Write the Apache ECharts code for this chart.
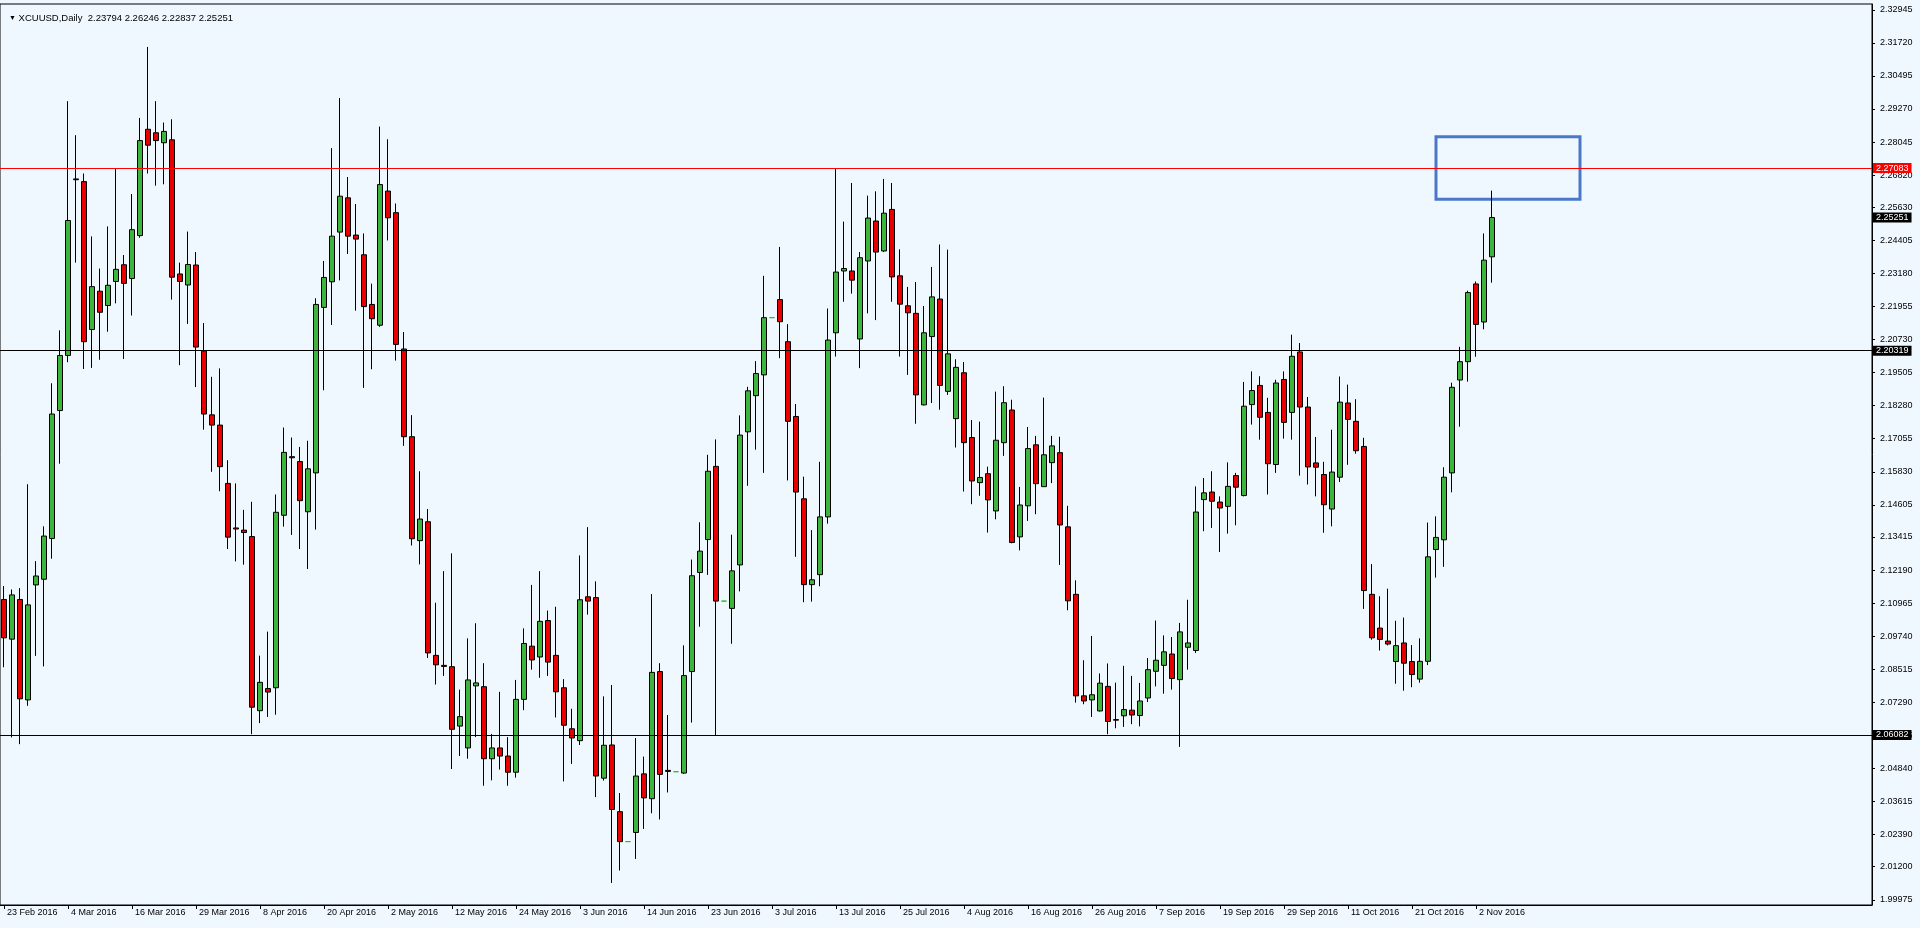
<!DOCTYPE html>
<html><head><meta charset="utf-8">
<script src="https://cdn.jsdelivr.net/npm/echarts/dist/echarts.min.js"></script>
<style>html,body{margin:0;padding:0;background:#F0F8FF;} #c{width:1920px;height:928px;}</style>
</head><body><div id="c"></div>
<script>
const symbolName = 'XCUUSD,Daily';
const headerValues = ['2.23794', '2.26246', '2.22837', '2.25251'];
const dateLabels = ['23 Feb 2016','4 Mar 2016','16 Mar 2016','29 Mar 2016','8 Apr 2016','20 Apr 2016','2 May 2016','12 May 2016','24 May 2016','3 Jun 2016','14 Jun 2016','23 Jun 2016','3 Jul 2016','13 Jul 2016','25 Jul 2016','4 Aug 2016','16 Aug 2016','26 Aug 2016','7 Sep 2016','19 Sep 2016','29 Sep 2016','11 Oct 2016','21 Oct 2016','2 Nov 2016'];
const barsPerLabel = 8;
const totalSlots = 234;
const priceTickLabels = ['2.32945','2.31720','2.30495','2.29270','2.28045','2.26820','2.25630','2.24405','2.23180','2.21955','2.20730','2.19505','2.18280','2.17055','2.15830','2.14605','2.13415','2.12190','2.10965','2.09740','2.08515','2.07290','2.06065','2.04840','2.03615','2.02390','2.01200','1.99975'];
const opens = [2.1110,2.0963,2.1110,2.0738,2.1164,2.1185,2.1336,2.1810,2.2014,2.2668,
2.2658,2.2110,2.2252,2.2199,2.2288,2.2350,2.2299,2.2458,2.2852,2.2839,
2.2802,2.2813,2.2316,2.2275,2.2349,2.2030,2.1794,2.1756,2.1540,2.1375,
2.1367,2.1343,2.0698,2.0780,2.0783,2.1422,2.1639,2.1621,2.1435,2.1579,
2.2192,2.2287,2.2471,2.2598,2.2460,2.2387,2.2203,2.2126,2.2623,2.2543,
2.2038,2.1713,2.1328,2.1398,2.0903,2.0866,2.0861,2.0641,2.0560,2.0790,
2.0787,2.0520,2.0560,2.0530,2.0470,2.0740,2.0937,2.0897,2.1032,2.0903,
2.0783,2.0631,2.0587,2.1120,2.1117,2.0448,2.0571,2.0324,2.0213,2.0247,
2.0464,2.0372,2.0843,2.0477,2.0472,2.0467,2.0843,2.1210,2.1332,2.1603,
2.1104,2.1077,2.1238,2.1731,2.1865,2.1942,2.2154,2.2221,2.2065,2.1788,
2.1483,2.1165,2.1202,2.1416,2.2098,2.2327,2.2327,2.2075,2.2364,2.2512,
2.2401,2.2555,2.2309,2.2198,2.2170,2.1831,2.2084,2.2223,2.1881,2.1780,
2.1950,2.1710,2.1543,2.1576,2.1438,2.1691,2.1812,2.1342,2.1457,2.1683,
2.1528,2.1617,2.1654,2.1379,2.1129,2.0753,2.0738,2.0697,2.0788,2.0665,
2.0679,2.0700,2.0680,2.0745,2.0844,2.0866,2.0908,2.0813,2.0933,2.0921,
2.1480,2.1508,2.1471,2.1455,2.1569,2.1495,2.1832,2.1903,2.1803,2.1610,
2.1925,2.1803,2.2027,2.1823,2.1616,2.1573,2.1445,2.1563,2.1838,2.1770,
2.1677,2.1129,2.1004,2.0956,2.0880,2.0949,2.0880,2.0815,2.0881,2.1295,
2.1331,2.1579,2.1923,2.1991,2.2279,2.2138,2.23794];
const highs = [2.1160,2.1147,2.1152,2.1537,2.1252,2.1381,2.1911,2.2107,2.2956,2.2830,
2.2688,2.2455,2.2336,2.2492,2.2705,2.2386,2.2612,2.2894,2.3157,2.2956,
2.2877,2.2889,2.2358,2.2473,2.2397,2.2134,2.1935,2.1966,2.1626,2.1540,
2.1442,2.1472,2.0902,2.0991,2.1499,2.1747,2.1710,2.1675,2.1698,2.2226,
2.2364,2.2782,2.2968,2.2675,2.2575,2.2466,2.2280,2.2862,2.2815,2.2577,
2.2101,2.1793,2.1585,2.1445,2.1098,2.1215,2.1281,2.0776,2.0966,2.1022,
2.0874,2.0612,2.0768,2.0600,2.0812,2.1003,2.1164,2.1215,2.1069,2.1083,
2.0815,2.0705,2.1273,2.1378,2.1177,2.0751,2.0793,2.0393,2.0214,2.0597,
2.0528,2.1130,2.0874,2.0682,2.0473,2.0940,2.1258,2.1396,2.1646,2.1703,
2.1105,2.1350,2.1792,2.1898,2.1993,2.2309,2.2155,2.2416,2.2130,2.1834,
2.1565,2.1367,2.1620,2.2188,2.2708,2.2510,2.2653,2.2397,2.2606,2.2622,
2.2668,2.2653,2.2407,2.2268,2.2286,2.2197,2.2342,2.2425,2.2406,2.2000,
2.1990,2.1775,2.1769,2.1602,2.1880,2.1900,2.1850,2.1527,2.1749,2.1716,
2.1858,2.1716,2.1713,2.1457,2.1181,2.0885,2.0975,2.0836,2.0873,2.0802,
2.0864,2.0827,2.0801,2.0893,2.1032,2.0977,2.0971,2.1023,2.1109,2.1529,
2.1560,2.1585,2.1492,2.1618,2.1579,2.1916,2.1955,2.1937,2.1857,2.1924,
2.1955,2.2091,2.2060,2.1860,2.1712,2.1620,2.1739,2.1936,2.1906,2.1852,
2.1709,2.1241,2.1122,2.1150,2.1031,2.1043,2.0941,2.0966,2.1395,2.1418,
2.1600,2.1913,2.2046,2.2254,2.2288,2.2466,2.26246];
const lows = [2.0859,2.0599,2.0574,2.0716,2.0901,2.0862,2.1261,2.1613,2.1989,2.2358,
2.1964,2.1968,2.1998,2.2102,2.2207,2.2001,2.2162,2.2450,2.2688,2.2643,
2.2648,2.2221,2.1978,2.2131,2.1897,2.1739,2.1583,2.1511,2.1297,2.1251,
2.1239,2.0611,2.0652,2.0675,2.0683,2.1380,2.1349,2.1297,2.1223,2.1369,
2.1885,2.2127,2.2292,2.2390,2.2180,2.1894,2.1963,2.2120,2.2440,2.1995,
2.1679,2.1310,2.1240,2.0893,2.0795,2.0827,2.0482,2.0530,2.0520,2.0600,
2.0420,2.0440,2.0480,2.0420,2.0450,2.0700,2.0850,2.0820,2.0827,2.0673,
2.0436,2.0501,2.0571,2.1054,2.0378,2.0439,2.0060,2.0106,2.0212,2.0149,
2.0260,2.0318,2.0295,2.0395,2.0471,2.0464,2.0654,2.1009,2.1201,2.0608,
2.1103,2.0946,2.1140,2.1531,2.1665,2.1579,2.2153,2.2004,2.1551,2.1268,
2.1100,2.1102,2.1159,2.1391,2.2010,2.2213,2.2243,2.1967,2.2170,2.2145,
2.2397,2.2213,2.2010,2.1942,2.1761,2.1829,2.1838,2.1813,2.1868,2.1673,
2.1510,2.1463,2.1494,2.1358,2.1407,2.1642,2.1318,2.1292,2.1401,2.1426,
2.1527,2.1541,2.1238,2.1070,2.0728,2.0722,2.0675,2.0695,2.0611,2.0633,
2.0638,2.0648,2.0640,2.0730,2.0788,2.0761,2.0776,2.0564,2.0850,2.0912,
2.1363,2.1375,2.1286,2.1354,2.1385,2.1492,2.1758,2.1702,2.1499,2.1579,
2.1706,2.1702,2.1569,2.1536,2.1492,2.1357,2.1381,2.1545,2.1609,2.1650,
2.1075,2.0961,2.0921,2.0940,2.0798,2.0772,2.0785,2.0802,2.0867,2.1191,
2.1231,2.1507,2.1750,2.1917,2.2009,2.2111,2.22837];
const closes = [2.0968,2.1127,2.0742,2.1090,2.1197,2.1345,2.1797,2.2014,2.2514,2.2665,
2.2065,2.2269,2.2174,2.2274,2.2333,2.2281,2.2480,2.2810,2.2793,2.2810,
2.2844,2.2304,2.2288,2.2351,2.2045,2.1797,2.1756,2.1602,2.1341,2.1371,
2.1358,2.0711,2.0803,2.0767,2.1433,2.1655,2.1635,2.1476,2.1594,2.2203,
2.2303,2.2456,2.2604,2.2456,2.2445,2.2195,2.2150,2.2647,2.2524,2.2055,
2.1713,2.1335,2.1408,2.0912,2.0868,2.0862,2.0629,2.0676,2.0812,2.0801,
2.0520,2.0560,2.0530,2.0470,2.0740,2.0947,2.0886,2.1029,2.0878,2.0768,
2.0644,2.0597,2.1109,2.1104,2.0456,2.0570,2.0332,2.0213,2.0213,2.0456,
2.0375,2.0840,2.0462,2.0473,2.0472,2.0828,2.1198,2.1289,2.1585,2.1104,
2.1104,2.1216,2.1719,2.1883,2.1947,2.2154,2.2154,2.2139,2.1770,2.1508,
2.1165,2.1183,2.1416,2.2071,2.2323,2.2336,2.2293,2.2376,2.2523,2.2397,
2.2541,2.2305,2.2204,2.2172,2.1868,2.2098,2.2231,2.1903,2.2020,2.1970,
2.1691,2.1549,2.1562,2.1479,2.1700,2.1839,2.1321,2.1460,2.1669,2.1539,
2.1646,2.1679,2.1386,2.1105,2.0753,2.0734,2.0757,2.0800,2.0658,2.0663,
2.0702,2.0682,2.0734,2.0850,2.0885,2.0916,2.0817,2.0990,2.0949,2.1434,
2.1505,2.1474,2.1449,2.1529,2.1526,2.1826,2.1884,2.1785,2.1613,2.1912,
2.1766,2.2011,2.1823,2.1601,2.1600,2.1461,2.1582,2.1841,2.1777,2.1661,
2.1143,2.0968,2.0962,2.0945,2.0939,2.0874,2.0832,2.0881,2.1268,2.1340,
2.1563,2.1896,2.1991,2.2247,2.2129,2.2367,2.25251];
const levelLines = [2.27083, 2.20319, 2.06082];
const levelColors = ['#FF0000', '#000000', '#000000'];
const currentPrice = 2.25251;
const zoneBox = [178.5, 2.28242, 196.8, 2.25924];

const FONT = 'Liberation Sans';
const categories = [];
for (let i = 0; i < totalSlots; i++) {
  const k = i / barsPerLabel;
  categories.push(i % barsPerLabel === 0 && k < dateLabels.length ? dateLabels[k] : '');
}
const candleData = opens.map((o, i) => [o, closes[i], lows[i], highs[i]]);
const priceTicks = priceTickLabels.map(Number);

const markData = levelLines.map((v, i) => ({
  name: v.toFixed(5),
  yAxis: v,
  lineStyle: { color: levelColors[i], width: 1, type: 'solid' },
  label: { backgroundColor: levelColors[i] }
}));
markData.push({ name: currentPrice.toFixed(5), yAxis: currentPrice, lineStyle: { color: 'rgba(0,0,0,0)', width: 1 }, label: { backgroundColor: '#000000' } });

const chart = echarts.init(document.getElementById('c'), null, { renderer: 'canvas' });
chart.setOption({
  animation: false,
  backgroundColor: '#F0F8FF',
  title: {
    left: 4, top: 8,
    text: '{t|▼} ' + symbolName + '  ' + headerValues.join(' '),
    textStyle: { fontFamily: FONT, fontSize: 9.5, fontWeight: 'normal', color: '#000', rich: { t: { fontSize: 7, color: '#000' } } }
  },
  grid: { left: 0, right: 48, top: 4, bottom: 23, show: true, borderColor: '#000', borderWidth: 1, backgroundColor: 'transparent', outerBoundsMode: 'none' },
  xAxis: {
    type: 'category', data: categories, boundaryGap: true,
    axisLine: { lineStyle: { color: '#000', width: 1 } },
    axisTick: { show: true, alignWithLabel: true, length: 4, inside: false, lineStyle: { color: '#000' }, interval: (idx, val) => val !== '' },
    axisLabel: { interval: (idx, val) => val !== '', align: 'left', margin: 3, padding: [0, 0, 0, 3], fontFamily: FONT, fontSize: 9, color: '#000', hideOverlap: false },
    splitLine: { show: false }
  },
  yAxis: {
    type: 'value', position: 'right', min: 1.99782, max: 2.33160, scale: true,
    axisLine: { show: true, lineStyle: { color: '#000', width: 1 } },
    axisTick: { show: true, length: 3, lineStyle: { color: '#000' }, customValues: priceTicks },
    axisLabel: { customValues: priceTicks, formatter: v => priceTickLabels[priceTicks.indexOf(v)] ?? v.toFixed(5), margin: 8, fontFamily: FONT, fontSize: 9, color: '#000', showMinLabel: true, showMaxLabel: true },
    splitLine: { show: false }
  },
  series: [{
    type: 'candlestick',
    data: candleData,
    barWidth: 5,
    itemStyle: { color: '#3DB53D', color0: '#E80000', borderColor: '#000', borderColor0: '#000', borderColorDoji: '#22C422', borderWidth: 1 },
    markLine: {
      symbol: 'none', silent: true, animation: false, precision: 5,
      label: { show: true, position: 'end', distance: 1, formatter: p => p.name, color: '#fff', fontFamily: FONT, fontSize: 9, padding: [1, 3, 0, 3] },
      data: markData
    }
  }, {
    type: 'custom',
    data: [zoneBox],
    encode: { x: [0, 2], y: [1, 3] },
    clip: false, silent: true,
    renderItem: (params, api) => {
      const a = api.coord([api.value(0), api.value(1)]);
      const b = api.coord([api.value(2), api.value(3)]);
      return { type: 'rect', shape: { x: a[0], y: a[1], width: b[0] - a[0], height: b[1] - a[1] }, style: { fill: 'none', stroke: '#4A78C8', lineWidth: 3 } };
    }
  }]
});
</script>
</body></html>
